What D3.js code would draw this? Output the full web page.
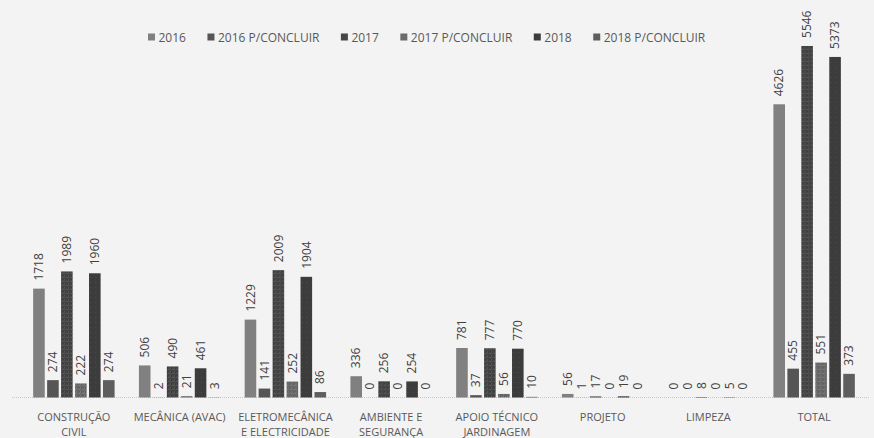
<!DOCTYPE html>
<html>
<head>
<meta charset="utf-8">
<script src="https://cdn.jsdelivr.net/npm/d3@7"></script>
<style>
  html, body { margin: 0; padding: 0; background: #f3f3f3; }
  svg { display: block; }
  text { font-family: "Open Sans", "Noto Sans", sans-serif; }
</style>
</head>
<body>
<svg id="chart" width="874" height="438"></svg>
<script>
// Work orders per area, by year (concluded and still to conclude)
const categories = [
  "CONSTRUÇÃO CIVIL", "MECÂNICA (AVAC)", "ELETROMECÂNICA E ELECTRICIDADE",
  "AMBIENTE E SEGURANÇA", "APOIO TÉCNICO JARDINAGEM", "PROJETO", "LIMPEZA", "TOTAL"
];
const categoryLines = [
  ["CONSTRUÇÃO", "CIVIL"], ["MECÂNICA (AVAC)"], ["ELETROMECÂNICA", "E ELECTRICIDADE"],
  ["AMBIENTE E", "SEGURANÇA"], ["APOIO TÉCNICO", "JARDINAGEM"], ["PROJETO"], ["LIMPEZA"], ["TOTAL"]
];
const seriesNames = ["2016", "2016 P/CONCLUIR", "2017", "2017 P/CONCLUIR", "2018", "2018 P/CONCLUIR"];
const v2016      = [1718, 506, 1229, 336, 781, 56, 0, 4626];
const v2016Open  = [274, 2, 141, 0, 37, 1, 0, 455];
const v2017      = [1989, 490, 2009, 256, 777, 17, 8, 5546];
const v2017Open  = [222, 21, 252, 0, 56, 0, 0, 551];
const v2018      = [1960, 461, 1904, 254, 770, 19, 5, 5373];
const v2018Open  = [274, 3, 86, 0, 10, 0, 0, 373];
const seriesValues = [v2016, v2016Open, v2017, v2017Open, v2018, v2018Open];

const svg = d3.select("#chart");

// Fill textures for the series
const defs = svg.append("defs");
function noisePattern(id, base, dark, light, size) {
  const p = defs.append("pattern").attr("id", id)
    .attr("patternUnits", "userSpaceOnUse").attr("width", size).attr("height", size);
  p.append("rect").attr("width", size).attr("height", size).attr("fill", base);
  const cells = [[0,0,dark],[2,1,light],[1,2,dark],[3,3,light],[3,0,light],[0,3,dark],[2,3,dark],[1,1,light]];
  cells.forEach(([cx, cy, c]) => {
    if (cx < size && cy < size) p.append("rect").attr("x", cx).attr("y", cy).attr("width", 1).attr("height", 1).attr("fill", c);
  });
}
noisePattern("tex2017", "#474747", "#3b3b3b", "#575757", 4);
noisePattern("tex2017o", "#6b6b6b", "#5c5c5c", "#7b7b7b", 4);
const dots = defs.append("pattern").attr("id", "tex2018")
  .attr("patternUnits", "userSpaceOnUse").attr("width", 5).attr("height", 5);
dots.append("rect").attr("width", 5).attr("height", 5).attr("fill", "#3c3c3c");
dots.append("rect").attr("x", 2).attr("y", 2).attr("width", 1).attr("height", 1).attr("fill", "#4d4d4d");

const fills = ["#808080", "#555555", "url(#tex2017)", "url(#tex2017o)", "url(#tex2018)", "#5e5e5e"];
const legendFills = ["#808080", "#555555", "#474747", "#6b6b6b", "#3c3c3c", "#5e5e5e"];

const x0 = d3.scaleBand().domain(categories).range([21, 867]).paddingInner(0.23).paddingOuter(0.115);
const x1 = d3.scaleBand().domain(seriesNames).range([0, x0.bandwidth()]).paddingInner(0.17);
const y = d3.scaleLinear().domain([0, 6000]).range([397.5, 17.2]);

// Baseline
svg.append("line")
  .attr("x1", 12).attr("x2", 870)
  .attr("y1", y(0)).attr("y2", y(0))
  .attr("stroke", "#c8c8c8").attr("stroke-width", 1).attr("stroke-dasharray", "1,1");

// Bars and value labels
const groups = svg.append("g").selectAll("g")
  .data(categories).join("g")
  .attr("transform", d => `translate(${x0(d)},0)`);

groups.each(function(cat, ci) {
  const g = d3.select(this);
  seriesNames.forEach((s, si) => {
    const v = seriesValues[si][ci];
    g.append("rect")
      .attr("x", x1(s)).attr("width", x1.bandwidth())
      .attr("y", y(v)).attr("height", y(0) - y(v))
      .attr("fill", fills[si]);
    g.append("text")
      .attr("transform", `translate(${x1(s) + x1.bandwidth() / 2},${y(v) - 8}) rotate(-90)`)
      .attr("dy", "0.35em")
      .attr("text-anchor", "start")
      .attr("font-size", 12)
      .attr("fill", "#404040")
      .text(v);
  });
});

// Category axis labels, one text per line
const axisG = svg.append("g");
categories.forEach((d, i) => {
  categoryLines[i].forEach((line, li) => {
    axisG.append("text")
      .attr("x", x0(d) + x0.bandwidth() / 2)
      .attr("y", 421 + li * 15)
      .attr("text-anchor", "middle")
      .attr("font-size", 11)
      .attr("fill", "#595959")
      .text(line);
  });
});

// Legend
const legend = svg.append("g");
let lx = 148;
seriesNames.forEach((s, i) => {
  legend.append("rect").attr("x", lx).attr("y", 33.5).attr("width", 7).attr("height", 7).attr("fill", legendFills[i]);
  const t = legend.append("text").attr("x", lx + 10.5).attr("y", 41.5)
    .attr("font-size", 12).attr("fill", "#595959").text(s);
  lx += 10.5 + t.node().getComputedTextLength() + 21.5;
});
</script>
</body>
</html>
